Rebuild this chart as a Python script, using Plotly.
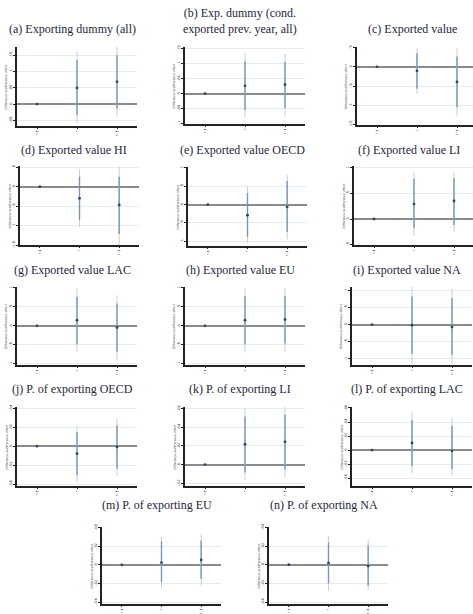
import plotly.graph_objects as go

W, H = 473, 614

periods = ["t-1", "t", "t+1"]

titles = [
    "(a) Exporting dummy (all)",
    "(b) Exp. dummy (cond.<br>exported prev. year, all)",
    "(c) Exported value",
    "(d) Exported value HI",
    "(e) Exported value OECD",
    "(f) Exported value LI",
    "(g) Exported value LAC",
    "(h) Exported value EU",
    "(i) Exported value NA",
    "(j) P. of exporting OECD",
    "(k) P. of exporting LI",
    "(l) P. of exporting LAC",
    "(m) P. of exporting EU",
    "(n) P. of exporting NA",
]

# point estimates (in units of the tick step of each panel)
est_a = [0, 0.99, 1.36];  lo95_a = [0, -1.22, -0.77]; hi95_a = [0, 3.22, 3.49]; lo90_a = [0, -0.67, -0.26]; hi90_a = [0, 2.68, 2.98]
est_b = [0, 0.52, 0.59];  lo95_b = [0, -1.63, -1.53]; hi95_b = [0, 2.72, 2.65]; lo90_b = [0, -1.09, -0.98]; hi90_b = [0, 2.13, 2.10]
est_c = [0, -0.21, -0.79]; lo95_c = [0, -1.40, -2.54]; hi95_c = [0, 0.96, 0.96]; lo90_c = [0, -1.14, -2.10]; hi90_c = [0, 0.70, 0.53]
est_d = [0, -0.60, -0.94]; lo95_d = [0, -2.09, -2.99]; hi95_d = [0, 0.89, 1.03]; lo90_d = [0, -1.71, -2.43]; hi90_d = [0, 0.51, 0.51]
est_e = [0, -0.58, -0.13]; lo95_e = [0, -2.07, -1.89]; hi95_e = [0, 0.99, 1.64]; lo90_e = [0, -1.75, -1.48]; hi90_e = [0, 0.63, 1.28]
est_f = [0, 0.58, 0.70];  lo95_f = [0, -0.66, -0.49]; hi95_f = [0, 1.82, 1.84]; lo90_f = [0, -0.36, -0.23]; hi90_f = [0, 1.55, 1.58]
est_g = [0, 0.30, -0.09]; lo95_g = [0, -1.37, -1.81]; hi95_g = [0, 1.96, 1.61]; lo90_g = [0, -0.98, -1.37]; hi90_g = [0, 1.53, 1.18]
est_h = [0, 0.30, 0.33];  lo95_h = [0, -1.40, -1.37]; hi95_h = [0, 1.96, 2.00]; lo90_h = [0, -0.98, -0.93]; hi90_h = [0, 1.58, 1.58]
est_i = [0, -0.04, -0.14]; lo95_i = [0, -2.29, -2.29]; hi95_i = [0, 2.18, 2.06]; lo90_i = [0, -1.70, -1.76]; hi90_i = [0, 1.63, 1.53]
est_j = [0, -0.39, -0.04]; lo95_j = [0, -1.88, -1.58]; hi95_j = [0, 1.10, 1.46]; lo90_j = [0, -1.53, -1.18]; hi90_j = [0, 0.75, 1.10]
est_k = [0, 1.09, 1.22];  lo95_k = [0, -0.85, -0.73]; hi95_k = [0, 3.00, 3.13]; lo90_k = [0, -0.42, -0.27]; hi90_k = [0, 2.58, 2.67]
est_l = [0, 0.51, -0.05]; lo95_l = [0, -1.63, -1.81]; hi95_l = [0, 2.67, 2.33]; lo90_l = [0, -1.16, -1.35]; hi90_l = [0, 2.14, 1.74]
est_m = [0, 0.12, 0.26];  lo95_m = [0, -1.27, -1.10]; hi95_m = [0, 1.51, 1.63]; lo90_m = [0, -0.92, -0.75]; hi90_m = [0, 1.25, 1.30]
est_n = [0, 0.10, -0.07]; lo95_n = [0, -1.39, -1.34]; hi95_n = [0, 1.53, 1.36]; lo90_n = [0, -1.00, -1.11]; hi90_n = [0, 1.18, 1.04]

estimates = [est_a, est_b, est_c, est_d, est_e, est_f, est_g, est_h, est_i, est_j, est_k, est_l, est_m, est_n]
low95 = [lo95_a, lo95_b, lo95_c, lo95_d, lo95_e, lo95_f, lo95_g, lo95_h, lo95_i, lo95_j, lo95_k, lo95_l, lo95_m, lo95_n]
high95 = [hi95_a, hi95_b, hi95_c, hi95_d, hi95_e, hi95_f, hi95_g, hi95_h, hi95_i, hi95_j, hi95_k, hi95_l, hi95_m, hi95_n]
low90 = [lo90_a, lo90_b, lo90_c, lo90_d, lo90_e, lo90_f, lo90_g, lo90_h, lo90_i, lo90_j, lo90_k, lo90_l, lo90_m, lo90_n]
high90 = [hi90_a, hi90_b, hi90_c, hi90_d, hi90_e, hi90_f, hi90_g, hi90_h, hi90_i, hi90_j, hi90_k, hi90_l, hi90_m, hi90_n]

# y tick values per panel (tick-step units) and step size for labels
yticks = [
    [-1, 0, 1, 2, 3], [-2, -1, 0, 1, 2, 3], [-3, -2, -1, 0, 1], [-3, -2, -1, 0, 1],
    [-2, -1, 0, 1, 2], [-1, 0, 1, 2], [-2, -1, 0, 1, 2], [-2, -1, 0, 1, 2],
    [-2, -1, 0, 1, 2], [-2, -1, 0, 1, 2], [-1, 0, 1, 2, 3], [-2, -1, 0, 1, 2, 3],
    [-2, -1, 0, 1, 2], [-2, -1, 0, 1, 2],
]
tick_step = [0.05, 0.05, 0.5, 0.5, 0.5, 0.5, 0.5, 0.5, 0.5, 0.02, 0.02, 0.02, 0.02, 0.02]

# layout geometry (pixels): left, right, top, bottom, yrange
boxes = [
    (17, 137, 47, 126, (-1.34, 3.49)),
    (185, 305, 47, 124, (-2.02, 3.1)),
    (357, 477, 47, 125, (-3.03, 1.03)),
    (20, 139, 166, 245, (-3.0, 1.06)),
    (188, 307, 167, 246, (-2.25, 2.04)),
    (354, 474, 166, 245, (-1.01, 2.06)),
    (17, 137, 287, 365, (-2.07, 2.05)),
    (185, 305, 287, 365, (-2.07, 2.05)),
    (352, 472, 287, 365, (-2.35, 2.18)),
    (17, 137, 407, 486, (-2.1, 2.07)),
    (185, 305, 407, 486, (-1.15, 3.09)),
    (352, 472, 407, 486, (-2.56, 3.07)),
    (102, 221, 527, 604, (-2.1, 2.03)),
    (269, 388, 527, 604, (-2.1, 2.02)),
]
title_y = [29, 20.5, 29, 150, 150, 150, 270, 270, 270, 389, 389, 389, 505, 505]

C95 = "#c3d0de"
C90 = "#7b95b3"
CPT = "#2c4564"

fig = go.Figure()
annotations = []
xs = [0, 1, 2]

def fmt(v):
    s = f"{v:g}"
    return s.replace("0.", ".")

for i in range(14):
    L, R, T, B, yr = boxes[i]
    sfx = "" if i == 0 else str(i + 1)
    xa, ya = "x" + sfx, "y" + sfx
    x95, y95, x90, y90 = [], [], [], []
    for k in xs:
        if low95[i][k] != high95[i][k]:
            x95 += [k, k, None]; y95 += [low95[i][k], high95[i][k], None]
            x90 += [k, k, None]; y90 += [low90[i][k], high90[i][k], None]
    fig.add_trace(go.Scatter(x=x95, y=y95, mode="lines", line=dict(color=C95, width=1),
                             xaxis=xa, yaxis=ya, showlegend=False, hoverinfo="skip"))
    fig.add_trace(go.Scatter(x=x90, y=y90, mode="lines", line=dict(color=C90, width=1.4),
                             xaxis=xa, yaxis=ya, showlegend=False, hoverinfo="skip"))
    fig.add_trace(go.Scatter(x=xs, y=estimates[i], mode="markers",
                             marker=dict(color=CPT, size=2.8),
                             xaxis=xa, yaxis=ya, showlegend=False))
    Rc = min(R, W)
    xr_end = -0.5 + 3.0 * (Rc - L) / (R - L)
    xkey = "xaxis" + sfx
    ykey = "yaxis" + sfx
    fig.layout[xkey] = dict(
        domain=[L / W, Rc / W], anchor=ya, range=[-0.5, xr_end], automargin=False,
        tickvals=xs, ticktext=periods, tickangle=-90,
        tickfont=dict(size=3, color="#222", family="DejaVu Sans"),
        ticks="outside", ticklen=1.5, tickcolor="#222",
        showline=True, linecolor="#222", linewidth=1.5, showgrid=False, zeroline=False,
    )
    fig.layout[ykey] = dict(
        domain=[1 - B / H, 1 - T / H], anchor=xa, range=list(yr), automargin=False,
        tickvals=yticks[i], ticktext=[fmt(v * tick_step[i]) for v in yticks[i]],
        tickangle=-90, tickfont=dict(size=3.5, color="#222", family="DejaVu Sans"),
        ticks="outside", ticklen=2, tickcolor="#222",
        showline=True, linecolor="#222", linewidth=1.5,
        showgrid=True, gridcolor="#e4ecf0", gridwidth=1,
        zeroline=True, zerolinecolor="#8a8a8a", zerolinewidth=1.5,
    )
    annotations.append(dict(
        text=titles[i], x=(L + R) / 2 / W - 5 / W, y=1 - title_y[i] / H,
        xref="paper", yref="paper", xanchor="center", yanchor="middle",
        showarrow=False, font=dict(family="Liberation Serif", size=12, color="#262638"),
    ))
    annotations.append(dict(
        text="Difference-in-difference effect", x=(L - 11) / W, y=1 - (T + B) / 2 / H,
        xref="paper", yref="paper", xanchor="center", yanchor="middle", textangle=-90,
        showarrow=False, font=dict(family="DejaVu Sans", size=3, color="#333"),
    ))

fig.update_layout(
    width=W, height=H, margin=dict(l=0, r=0, t=0, b=0, autoexpand=False),
    paper_bgcolor="white", plot_bgcolor="white",
    annotations=annotations, showlegend=False,
)

fig.write_html(
    "out.html",
    config={"displayModeBar": False},
    post_script="document.body.style.margin='0';document.body.style.padding='0';"
                "document.body.style.overflow='hidden';",
)
